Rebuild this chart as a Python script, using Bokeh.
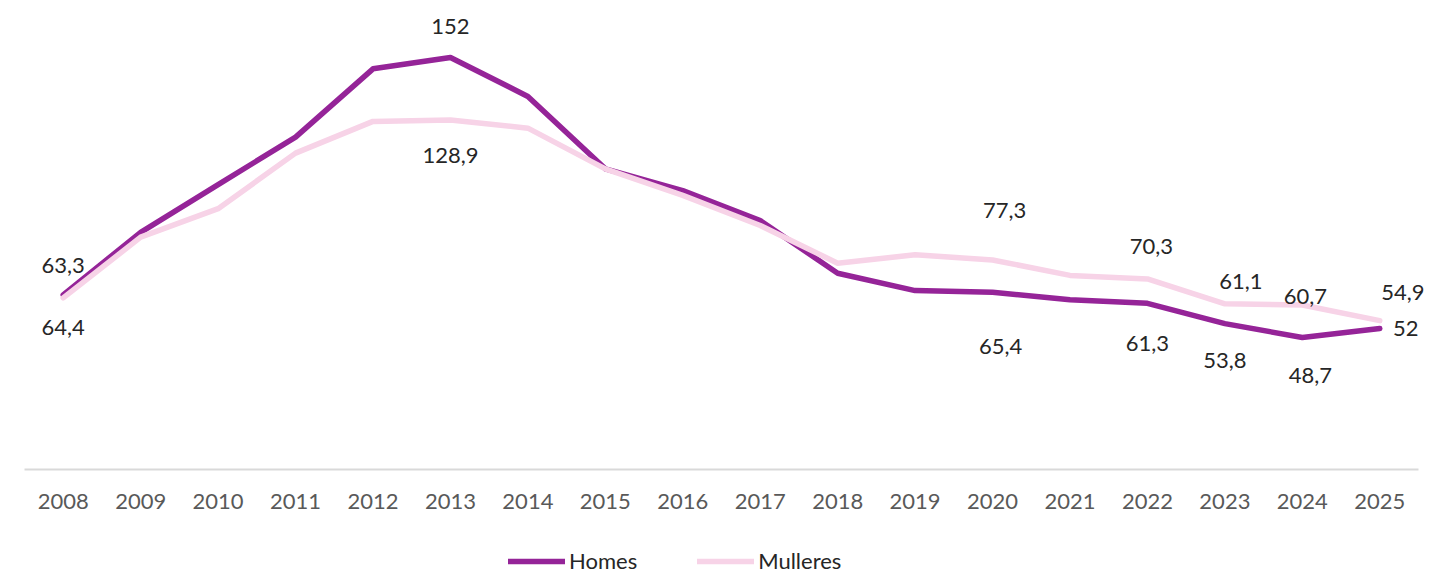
from bokeh.plotting import figure
from bokeh.layouts import column
from bokeh.models import Range1d, Legend, LegendItem, ColumnDataSource, FixedTicker
from bokeh.core.properties import value
from bokeh.embed import file_html
from bokeh.resources import INLINE

years = [2008, 2009, 2010, 2011, 2012, 2013, 2014, 2015, 2016,
         2017, 2018, 2019, 2020, 2021, 2022, 2023, 2024, 2025]
homes = [64.4, 87.5, 105.1, 122.6, 147.8, 152, 137.6, 110.9, 102.9, 91.8,
         72.4, 66.0, 65.4, 62.6, 61.3, 53.8, 48.7, 52]
mulleres = [63.3, 85.7, 96.2, 116.7, 128.4, 128.9, 125.9, 110.9, 101.1, 90.0,
            76.1, 79.2, 77.3, 71.6, 70.3, 61.1, 60.7, 54.9]

label_idx = [0, 5, 12, 14, 15, 16, 17]
homes_off = [(0, 33), (0, -31), (8, 54), (0, 40), (0, 37), (8, 38), (26, 0)]
mull_off = [(0, -32), (0, 35), (12, -49), (4, -32), (16, -22), (3, -8), (23, -28)]

HOMES_C = "#952498"
MULL_C = "#F7D3E7"
FONT = "Lato"

W = 1446
H_MAIN = 530
H_LEG = 45
LEFT = 24
PX_PER_YEAR = (1418 - 24) / 18.0
PX_PER_UNIT = 2.711
AXIS_Y = 469


def fmt(v):
    s = f"{v:.1f}".replace(".", ",")
    if s.endswith(",0"):
        s = s[:-2]
    return s


x_start = years[0] - 0.5
x_end = x_start + (W - LEFT) / PX_PER_YEAR
y_end = AXIS_Y / PX_PER_UNIT

p = figure(width=W, height=H_MAIN, x_range=Range1d(x_start, x_end), y_range=Range1d(0, y_end),
           output_backend="svg", toolbar_location=None,
           min_border_left=LEFT, min_border_right=0, min_border_top=0,
           min_border_bottom=H_MAIN - AXIS_Y)
p.outline_line_color = None
p.grid.visible = False
p.yaxis.visible = False
p.background_fill_color = "white"
p.border_fill_color = "white"

xa = p.xaxis[0]
xa.ticker = FixedTicker(ticks=years)
xa.bounds = (years[0] - 0.5, years[-1] + 0.5)
xa.axis_line_color = "#d9d9d9"
xa.axis_line_width = 2
xa.major_tick_line_color = None
xa.minor_tick_line_color = None
xa.major_label_text_font = FONT
xa.major_label_text_font_size = "22px"
xa.major_label_text_color = "#595959"
xa.major_label_standoff = 18

p.line(years, homes, line_width=5.5, line_color=HOMES_C, line_join="round", line_cap="round")
p.line(years, mulleres, line_width=5.5, line_color=MULL_C, line_join="round", line_cap="round")

for vals, offs in ((homes, homes_off), (mulleres, mull_off)):
    src = ColumnDataSource(dict(
        x=[years[i] for i in label_idx],
        y=[vals[i] for i in label_idx],
        t=[fmt(vals[i]) for i in label_idx],
        xo=[o[0] for o in offs],
        yo=[o[1] for o in offs],
    ))
    p.text(x="x", y="y", text="t", x_offset="xo", y_offset="yo", source=src,
           text_font=value(FONT), text_font_size="22px", text_color="#262626",
           text_align="center", text_baseline="middle")

# legend strip below the chart
q = figure(width=W, height=H_LEG, x_range=Range1d(0, 1), y_range=Range1d(0, 1),
           output_backend="svg", toolbar_location=None,
           min_border_left=0, min_border_right=0, min_border_top=0, min_border_bottom=0)
q.outline_line_color = None
q.grid.visible = False
q.axis.visible = False
q.background_fill_color = "white"
q.border_fill_color = "white"
# legend-only renderers: their points lie outside the visible range
lh = q.line([5, 6], [5, 6], line_width=5.5, line_color=HOMES_C, line_cap="round")
lm = q.line([5, 6], [5, 6], line_width=5.5, line_color=MULL_C, line_cap="round")

legend = Legend(items=[LegendItem(label="Homes", renderers=[lh]),
                       LegendItem(label="Mulleres", renderers=[lm])],
                orientation="horizontal", location=(484, 1),
                glyph_width=57, glyph_height=22, label_height=22, label_standoff=4,
                spacing=60, padding=0, margin=0,
                label_text_font=FONT, label_text_font_size="22px", label_text_color="#262626",
                border_line_color=None, background_fill_alpha=0)
q.add_layout(legend, "center")

open("out.html", "w").write(file_html(column(p, q), INLINE))
